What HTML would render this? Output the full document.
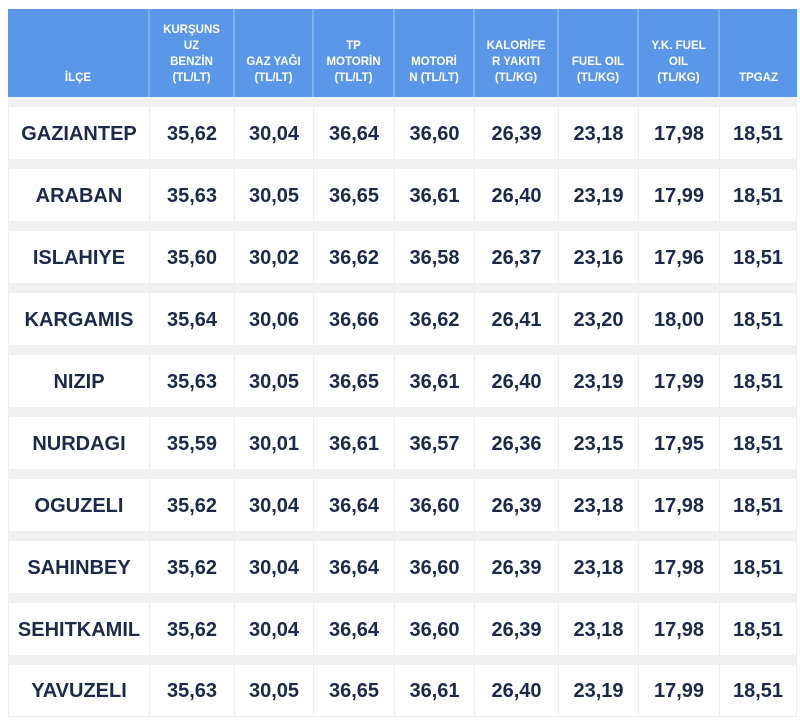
<!DOCTYPE html>
<html><head><meta charset="utf-8"><style>
body{margin:0;background:#fff;width:800px;height:726px;overflow:hidden;font-family:"Liberation Sans","DejaVu Sans",sans-serif}
#t{position:absolute;left:8px;top:9px;width:789px}
.hd{position:absolute;top:0;height:88px;background:#5b97e8;color:#fff;font-weight:bold;font-size:11.5px;line-height:16px;text-align:center;display:flex;align-items:flex-end;justify-content:center;box-sizing:border-box;padding:0 4px 11px;border-right:2px solid #7fb0ee}
.gap{position:absolute;left:0;width:789px;height:10px;background:#f1f1f1}
.c{position:absolute;height:52px;background:#fff;color:#1b2a4a;font-weight:bold;font-size:20px;display:flex;align-items:center;justify-content:center;box-sizing:border-box;border-right:1px solid #eee;padding-top:2px}
</style></head><body>
<div id="t"></div>
<script>
const edges=[0,142,227,306,387,467,551,631,712,789];
const headers=["İLÇE","KURŞUNS<br>UZ<br>BENZİN<br>(TL/LT)","GAZ YAĞI<br>(TL/LT)","TP<br>MOTORİN<br>(TL/LT)","MOTORİ<br>N (TL/LT)","KALORİFE<br>R YAKITI<br>(TL/KG)","FUEL OIL<br>(TL/KG)","Y.K. FUEL<br>OIL<br>(TL/KG)","TPGAZ"];
const districts=["GAZIANTEP","ARABAN","ISLAHIYE","KARGAMIS","NIZIP","NURDAGI","OGUZELI","SAHINBEY","SEHITKAMIL","YAVUZELI"];
const values=[
["35,62","30,04","36,64","36,60","26,39","23,18","17,98","18,51"],
["35,63","30,05","36,65","36,61","26,40","23,19","17,99","18,51"],
["35,60","30,02","36,62","36,58","26,37","23,16","17,96","18,51"],
["35,64","30,06","36,66","36,62","26,41","23,20","18,00","18,51"],
["35,63","30,05","36,65","36,61","26,40","23,19","17,99","18,51"],
["35,59","30,01","36,61","36,57","26,36","23,15","17,95","18,51"],
["35,62","30,04","36,64","36,60","26,39","23,18","17,98","18,51"],
["35,62","30,04","36,64","36,60","26,39","23,18","17,98","18,51"],
["35,62","30,04","36,64","36,60","26,39","23,18","17,98","18,51"],
["35,63","30,05","36,65","36,61","26,40","23,19","17,99","18,51"]];
const t=document.getElementById('t');
headers.forEach((h,i)=>{const d=document.createElement('div');d.className='hd';


d.style.left=edges[i]+'px';d.style.width=(edges[i+1]-edges[i])+'px';if(i==8)d.style.borderRight='none';d.innerHTML=h;t.appendChild(d);});
districts.forEach((name,r)=>{const top=88+62*r;
const g=document.createElement('div');g.className='gap';g.style.top=top+'px';


t.appendChild(g);
const row=[name].concat(values[r]);
row.forEach((v,i)=>{const d=document.createElement('div');d.className='c';


d.style.top=(top+10)+'px';d.style.left=edges[i]+'px';d.style.width=(edges[i+1]-edges[i])+'px';
if(i==0)d.style.borderLeft='1px solid #eee';
if(r==districts.length-1)d.style.borderBottom='1px solid #eee';
d.textContent=v;t.appendChild(d);});});
</script>
</body></html>
